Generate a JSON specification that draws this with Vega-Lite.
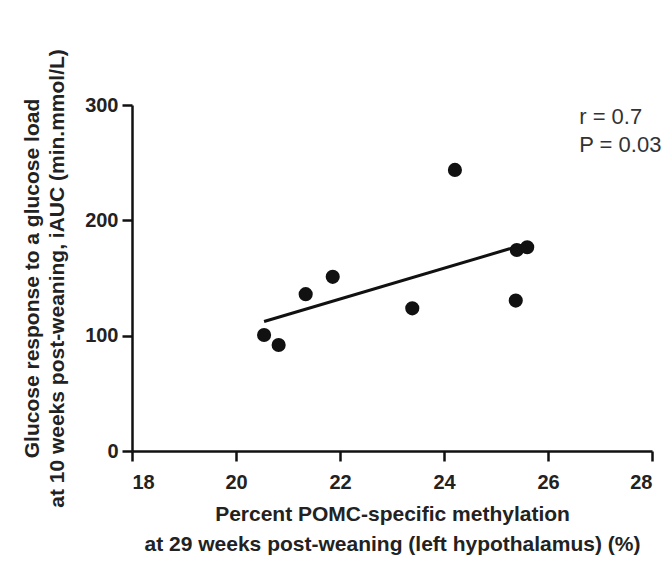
{
  "$schema": "https://vega.github.io/schema/vega-lite/v6.json",
  "width": 520,
  "height": 346,
  "autosize": {"type": "none"},
  "padding": {"left": 132, "top": 105, "right": 16, "bottom": 114},
  "background": "white",
  "config": {
    "view": {"stroke": null},
    "font": "Liberation Sans",
    "axis": {
      "domainColor": "#111",
      "domainWidth": 2.5,
      "tickColor": "#111",
      "tickWidth": 2.5,
      "tickSize": 10,
      "grid": false,
      "labelFont": "Liberation Sans",
      "labelFontSize": 20,
      "labelFontWeight": "bold",
      "labelColor": "#222",
      "titleFont": "Liberation Sans",
      "titleFontSize": 21,
      "titleFontWeight": "bold",
      "titleColor": "#222"
    }
  },
  "datasets": {
    "points": [
      {"x": 20.54, "y": 100.6},
      {"x": 20.82, "y": 91.9},
      {"x": 21.34, "y": 136},
      {"x": 21.86, "y": 151},
      {"x": 23.39, "y": 123.7},
      {"x": 24.21, "y": 243.7},
      {"x": 25.4, "y": 174.3},
      {"x": 25.6, "y": 176.7},
      {"x": 25.38, "y": 130.4}
    ],
    "fit": [
      {"x": 20.54, "y": 112.3},
      {"x": 25.5, "y": 178.5}
    ],
    "notes": [
      {"x": 26.6, "y": 289.5, "label": "r = 0.7"},
      {"x": 26.6, "y": 265.5, "label": "P = 0.03"}
    ]
  },
  "layer": [
    {
      "data": {"name": "fit"},
      "mark": {"type": "line", "color": "#111", "strokeWidth": 3},
      "encoding": {
        "x": {
          "field": "x", "type": "quantitative",
          "scale": {"domain": [18, 28], "nice": false, "zero": false},
          "axis": {
            "values": [18, 20, 22, 24, 26, 28],
            "labelPadding": 11,
            "titlePadding": 11,
            "titleLineHeight": 30,
            "title": ["Percent POMC-specific methylation", "at 29 weeks post-weaning (left hypothalamus) (%)"]
          }
        },
        "y": {
          "field": "y", "type": "quantitative",
          "scale": {"domain": [0, 300], "nice": false},
          "axis": {
            "values": [0, 100, 200, 300],
            "labelPadding": 4,
            "titlePadding": 17,
            "titleLineHeight": 25,
            "title": ["Glucose response to a glucose load", "at 10 weeks post-weaning, iAUC (min.mmol/L)"]
          }
        }
      }
    },
    {
      "data": {"name": "points"},
      "mark": {"type": "point", "filled": true, "shape": "circle", "size": 200, "color": "#111", "opacity": 1},
      "encoding": {
        "x": {"field": "x", "type": "quantitative"},
        "y": {"field": "y", "type": "quantitative"}
      }
    },
    {
      "data": {"name": "notes"},
      "mark": {"type": "text", "align": "left", "baseline": "middle", "fontSize": 22, "color": "#333", "font": "Liberation Sans"},
      "encoding": {
        "x": {"field": "x", "type": "quantitative"},
        "y": {"field": "y", "type": "quantitative"},
        "text": {"field": "label"}
      }
    }
  ]
}
